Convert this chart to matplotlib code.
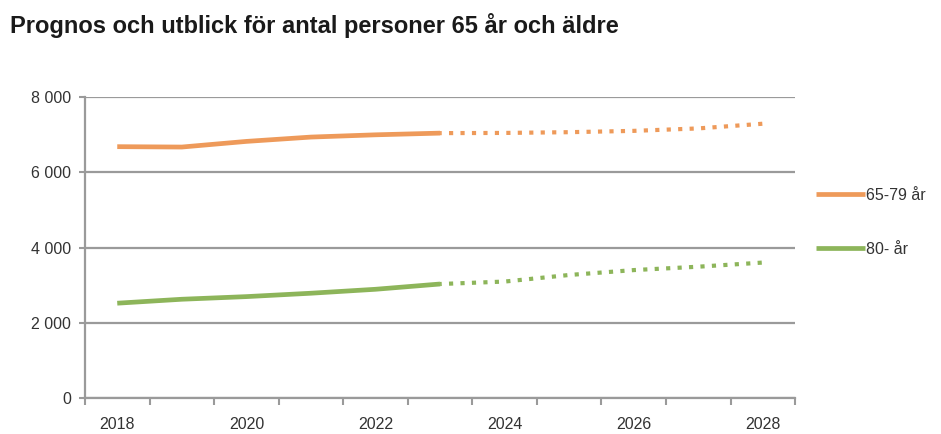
import matplotlib
matplotlib.use("Agg")
import matplotlib.pyplot as plt
from matplotlib.ticker import FuncFormatter

plt.rcParams['font.family'] = ['Liberation Sans', 'DejaVu Sans']

years = [2018, 2019, 2020, 2021, 2022, 2023, 2024, 2025, 2026, 2027, 2028]
series_names = ["65-79 år", "80- år"]
values_6579 = [6680, 6670, 6820, 6935, 6995, 7040, 7045, 7065, 7100, 7165, 7290]
values_80 = [2520, 2625, 2695, 2785, 2890, 3030, 3095, 3270, 3400, 3490, 3600]
last_actual = 2023
colors = ['#EE9A5A', '#8DB55A']
title = "Prognos och utblick för antal personer 65 år och äldre"

fig = plt.figure(figsize=(9.41, 4.34), dpi=100)
ax = fig.add_axes([0.0903, 0.0829, 0.7547, 0.6936])

x = list(range(len(years)))
split = years.index(last_actual)
for vals, col, name in zip([values_6579, values_80], colors, series_names):
    ax.plot(x[:split + 1], vals[:split + 1], color=col, lw=3.4,
            solid_capstyle='butt', label=name, zorder=3)
    ax.plot(x[split:], vals[split:], color=col, lw=3.0,
            linestyle=(0.6, (1.0, 1.75)), dash_capstyle='butt', zorder=3)

ax.set_xlim(-0.5, len(years) - 0.5)
ax.set_ylim(0, 8000)
ax.set_yticks([0, 2000, 4000, 6000, 8000])
ax.yaxis.set_major_formatter(FuncFormatter(lambda v, p: f"{int(v):,}".replace(",", " ")))
ax.grid(axis='y', color='#9a9a9a', lw=1.6, zorder=1)

ax.set_xticks([i - 0.5 for i in range(len(years) + 1)])
ax.set_xticklabels([])
ax.set_xticks([i for i in x if years[i] % 2 == 0], minor=True)
ax.set_xticklabels([str(years[i]) for i in x if years[i] % 2 == 0], minor=True)
ax.tick_params(axis='x', which='major', length=5, width=1.5, color='#9a9a9a', direction='out')
ax.tick_params(axis='x', which='minor', length=0, pad=14, labelsize=11.5, labelcolor='#333333')
ax.tick_params(axis='y', length=4, width=1.5, color='#9a9a9a', pad=6, labelsize=11.5, labelcolor='#333333')

for s in ['top', 'right']:
    ax.spines[s].set_visible(False)
for s in ['left', 'bottom']:
    ax.spines[s].set_color('#9a9a9a')
    ax.spines[s].set_linewidth(1.6)

handles, labels = ax.get_legend_handles_labels()
leg = fig.legend(handles, labels, loc='upper left', bbox_to_anchor=(0.867, 0.567),
                 frameon=False, fontsize=11.5, handlelength=3.1, handletextpad=0.05,
                 labelspacing=2.45, borderaxespad=0, borderpad=0)
for t in leg.get_texts():
    t.set_color('#333333')

fig.text(0.011, 0.942, title, fontsize=17, fontweight='bold', color='#1a1a1a', va='center')

fig.savefig("out.png", dpi=100)
